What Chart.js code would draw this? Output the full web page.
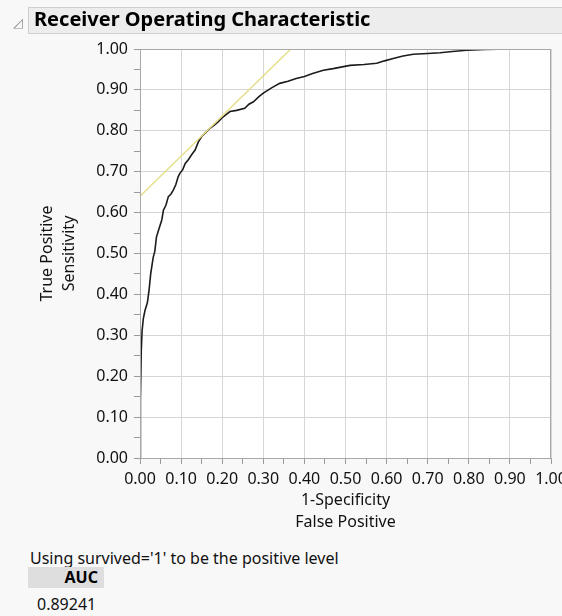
<!DOCTYPE html>
<html>
<head>
<meta charset="utf-8">
<script src="https://cdn.jsdelivr.net/npm/chart.js@4"></script>
<style>
  body { margin: 0; background: #f8f8f8; font-family: "Noto Sans", sans-serif; overflow: hidden; }
  #page { position: relative; width: 562px; height: 616px; }
  #titlebar { position: absolute; left: 28px; top: 7px; width: 540px; height: 25px; background: #ededed; border: 1px solid #cfcfcf; }
  #titlebar span { position: absolute; left: 5px; top: -3px; font-weight: bold; font-size: 20px; color: #000; white-space: nowrap; }
  #tri { position: absolute; left: 13px; top: 13px; font-size: 13px; color: #8a8a8a; }
  #wrap { position: absolute; left: 0; top: 0; width: 562px; height: 540px; }
  #note { position: absolute; left: 30px; top: 547px; font-size: 16px; color: #111; white-space: nowrap; }
  #auc { position: absolute; left: 28px; top: 567px; width: 76px; height: 21px; background: #dedede; }
  #auc span { position: absolute; right: 6px; top: -1px; font-size: 16px; font-weight: bold; }
  #aucval { position: absolute; left: 37px; top: 593px; font-size: 16px; color: #111; }
</style>
</head>
<body>
<div id="page">
  <div id="wrap"><canvas id="roc"></canvas></div>
  <div id="tri">&#x25FF;</div>
  <div id="titlebar"><span>Receiver Operating Characteristic</span></div>
  <div id="note">Using survived='1' to be the positive level</div>
  <div id="auc"><span>AUC</span></div>
  <div id="aucval">0.89241</div>
</div>
<script>
// ROC curve
const fprValues = [0, 0.001, 0.003, 0.005, 0.008, 0.012, 0.018, 0.022, 0.026, 0.032,
  0.036, 0.040, 0.046, 0.053, 0.057, 0.063, 0.069, 0.075, 0.081, 0.087,
  0.093, 0.097, 0.104, 0.11, 0.118, 0.126, 0.134, 0.142, 0.15, 0.162,
  0.17, 0.18, 0.19, 0.20, 0.219, 0.235, 0.255, 0.265, 0.276, 0.29,
  0.30, 0.32, 0.34, 0.36, 0.38, 0.40, 0.42, 0.446, 0.47, 0.511,
  0.545, 0.576, 0.595, 0.616, 0.64, 0.665, 0.70, 0.73, 0.76, 0.795,
  0.84, 0.90, 1.0]
const tprValues = [0, 0.14, 0.26, 0.31, 0.34, 0.36, 0.38, 0.41, 0.45, 0.49,
  0.505, 0.54, 0.56, 0.582, 0.606, 0.618, 0.639, 0.645, 0.655, 0.668,
  0.688, 0.696, 0.705, 0.72, 0.73, 0.742, 0.753, 0.773, 0.786, 0.798,
  0.806, 0.813, 0.822, 0.832, 0.847, 0.85, 0.855, 0.865, 0.871, 0.884,
  0.892, 0.905, 0.916, 0.921, 0.928, 0.933, 0.94, 0.948, 0.952, 0.96,
  0.962, 0.965, 0.971, 0.977, 0.983, 0.987, 0.989, 0.991, 0.994, 0.997,
  0.999, 1.0, 1.0]

// tangent line at the best cut-off
const tangentX = [0, 0.367]
const tangentY = [0.64, 1.0]

const tickStep = 0.05
const xTitle = ["1-Specificity", "False Positive"]
const yTitle = ["True Positive", "Sensitivity"]

const isMajor = (v) => Math.round(v * 100) % 10 === 0

const plotFrame = {
  id: "plotFrame",
  beforeDraw(chart) {
    const { ctx, chartArea: a } = chart
    ctx.save()
    ctx.fillStyle = "#ffffff"
    ctx.fillRect(a.left, a.top, a.right - a.left, a.bottom - a.top)
    ctx.restore()
  },
  afterDraw(chart) {
    const { ctx, chartArea: a } = chart
    ctx.save()
    ctx.strokeStyle = "#a8a8a8"
    ctx.lineWidth = 1
    ctx.strokeRect(a.left + 0.5, a.top + 0.5, a.right - a.left - 1, a.bottom - a.top)
    ctx.restore()
  }
}

function axis(title, isX) {
  return {
    type: "linear",
    min: 0,
    max: 1,
    afterFit(s) {
      if (isX) {
        s.height = 82
        s.paddingLeft = 0
        s.paddingRight = 0
      } else {
        s.width = 140
        s.paddingTop = 0
        s.paddingBottom = 0
      }
    },
    border: { color: "#a8a8a8" },
    grid: {
      color: (c) => (c.tick && isMajor(c.tick.value) ? "#d6d6d6" : "rgba(0,0,0,0)"),
      tickColor: "#9a9a9a",
      tickLength: 6
    },
    ticks: {
      stepSize: tickStep,
      autoSkip: false,
      maxRotation: 0,
      padding: 6,
      color: "#111",
      font: { family: "Noto Sans", size: 16 },
      callback: (v) => (isMajor(v) ? v.toFixed(2) : "")
    },
    title: {
      display: true,
      text: title,
      color: "#111",
      font: { family: "Noto Sans", size: 16, lineHeight: 1.4 },
      padding: isX ? { top: 0, bottom: 6 } : { top: 36, bottom: 0 }
    }
  }
}

new Chart(document.getElementById("roc"), {
  type: "scatter",
  data: {
    datasets: [
      {
        label: "Tangent",
        data: tangentX.map((x, i) => ({ x: x, y: tangentY[i] })),
        showLine: true,
        borderColor: "#e6df8a",
        borderWidth: 1.5,
        pointRadius: 0
      },
      {
        label: "ROC",
        data: fprValues.map((x, i) => ({ x: x, y: tprValues[i] })),
        showLine: true,
        borderColor: "#1c1c1c",
        borderWidth: 1.6,
        pointRadius: 0
      }
    ]
  },
  options: {
    responsive: true,
    maintainAspectRatio: false,
    animation: false,
    layout: { padding: { top: 49, right: 11, left: 0, bottom: 0 } },
    plugins: {
      legend: { display: false },
      tooltip: { enabled: false }
    },
    scales: {
      x: axis(xTitle, true),
      y: axis(yTitle, false)
    }
  },
  plugins: [plotFrame]
})
</script>
</body>
</html>
